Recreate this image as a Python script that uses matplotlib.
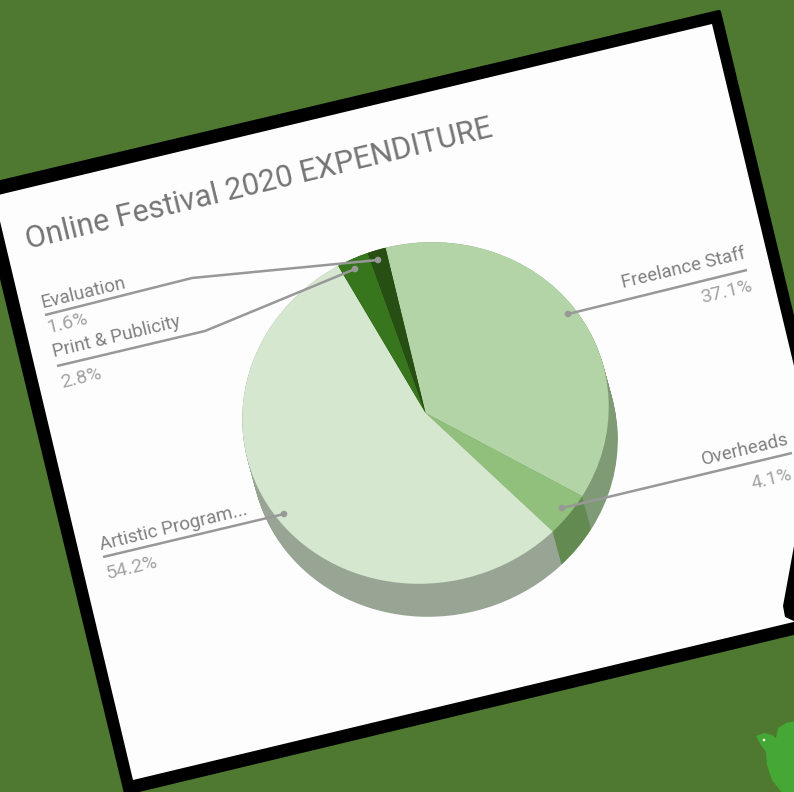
import matplotlib
matplotlib.use("Agg")
import matplotlib.pyplot as plt
from matplotlib.patches import Polygon, Circle
from matplotlib.transforms import Affine2D

plt.rcParams['font.family'] = ['Roboto', 'DejaVu Sans']

W, H = 794, 792
TITLE = "Online Festival 2020 EXPENDITURE"
categories = ["Freelance Staff", "Overheads", "Artistic Program...", "Print & Publicity", "Evaluation"]
values = [37.1, 4.1, 54.2, 2.8, 1.6]
pct_labels = ["37.1%", "4.1%", "54.2%", "2.8%", "1.6%"]
top_colors = ["#b3d4a6", "#90c07b", "#d6e7d0", "#38761d", "#274e13"]
side_colors = ["#7f9b76", "#638a50", "#98a594", "#27521a", "#1b360d"]

TILT = 13.6
CX, CY = 425.5, 413
RX, RY = 184, 170
DEPTH = (9, 33)


def P(x, y):
    return (x, H - y)


def poly(pts, **kw):
    return Polygon([P(*p) for p in pts], closed=True, **kw)


fig = plt.figure(figsize=(W / 100, H / 100), dpi=100, facecolor="#4f7931")
ax = fig.add_axes([0, 0, 1, 1])
ax.set_facecolor("#4f7931")

# Card
ax.add_patch(poly([(719, 12), (864, 616), (126, 793), (-20, 187)], fc="black", ec="black",
                  lw=3, joinstyle="round", zorder=1))
ax.add_patch(poly([(712, 24), (852, 608), (133, 780), (-6, 196)], fc="#fdfdfd", ec="none", zorder=2))
ax.add_patch(poly([(796, 535), (783, 606), (785, 617), (796, 622)], fc="black", ec="none", zorder=3))

# Extruded side, then top of the pie
for k in range(33, -1, -1):
    f = k / 33
    wedges, _ = ax.pie(values, colors=side_colors, startangle=90, counterclock=False, radius=1,
                       wedgeprops=dict(linewidth=0))
    tr = (Affine2D().scale(RX, RY).rotate_deg(TILT)
          .translate(CX + DEPTH[0] * f, H - CY - DEPTH[1] * f) + ax.transData)
    for w in wedges:
        w.set_transform(tr)
        w.set_zorder(4)

wedges, _ = ax.pie(values, colors=top_colors, startangle=90, counterclock=False, radius=1,
                   wedgeprops=dict(linewidth=0))
tr = Affine2D().scale(RX, RY).rotate_deg(TILT).translate(CX, H - CY) + ax.transData
for w in wedges:
    w.set_transform(tr)
    w.set_zorder(5)

# Leaders and labels
LEAD = "#989898"
leaders = {
    "Freelance Staff": [(568, 314), (747, 270)],
    "Overheads": [(562, 508), (792, 453)],
    "Artistic Program...": [(284, 514), (103, 557)],
    "Print & Publicity": [(355, 269), (205, 331), (57, 366)],
    "Evaluation": [(378, 260), (192, 278), (45, 315)],
}
name_pos = {
    "Freelance Staff": (746, 258, "right"),
    "Overheads": (790, 444, "right"),
    "Artistic Program...": (101, 550, "left"),
    "Print & Publicity": (54, 357, "left"),
    "Evaluation": (42, 308, "left"),
}
pct_pos = {
    "Freelance Staff": (753, 291, "right"),
    "Overheads": (793, 479, "right"),
    "Artistic Program...": (108, 579, "left"),
    "Print & Publicity": (62, 388, "left"),
    "Evaluation": (48, 333, "left"),
}
for cat, pct in zip(categories, pct_labels):
    pts = leaders[cat]
    ax.plot([P(*p)[0] for p in pts], [P(*p)[1] for p in pts], color=LEAD, lw=1.8, zorder=6,
            solid_capstyle="butt")
    ax.add_patch(Circle(P(*pts[0]), 3.3, fc=LEAD, ec="none", zorder=7))
    x, y, ha = name_pos[cat]
    ax.text(*P(x, y), cat, rotation=TILT, rotation_mode="anchor", ha=ha, va="baseline",
            fontsize=13.5, color="#808080", zorder=8)
    x, y, ha = pct_pos[cat]
    ax.text(*P(x, y), pct, rotation=TILT, rotation_mode="anchor", ha=ha, va="baseline",
            fontsize=14, color="#a3a3a3", zorder=8)

ax.text(*P(28, 249), TITLE, rotation=TILT, rotation_mode="anchor", ha="left", va="baseline",
        fontsize=22, color="#757575", zorder=8)

# Bird mark in the corner
ax.add_patch(poly([(756, 736), (764, 733), (772, 735), (776, 738), (778, 728), (786, 723), (796, 721),
                   (796, 794), (783, 794), (772, 780), (767, 765), (766, 752), (761, 745)],
                  fc="#45a835", ec="none", zorder=3))
ax.add_patch(Circle(P(764, 740), 1.3, fc="white", ec="none", zorder=4))

ax.set_aspect("auto")
ax.set_xlim(0, W)
ax.set_ylim(0, H)
ax.axis("off")
fig.savefig("out.png", dpi=100, facecolor=fig.get_facecolor())
